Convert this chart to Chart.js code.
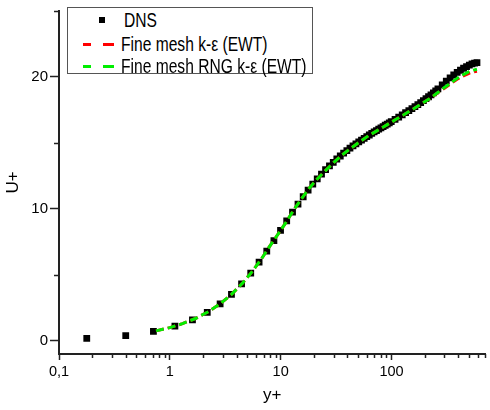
<!DOCTYPE html>
<html>
<head>
<meta charset="utf-8">
<script src="https://cdn.jsdelivr.net/npm/chart.js@4.4.0/dist/chart.umd.min.js"></script>
<style>
    body { margin: 0; background: #fff; }
    #wrap { position: relative; width: 490px; height: 410px; }
    #legend {
        position: absolute; left: 67px; top: 7px; width: 246px; height: 67px;
        box-sizing: border-box; border: 1.5px solid #555; background: #fff;
        font-family: "Liberation Sans", Arial, sans-serif;
        font-size: 19.5px; color: #000;
    }
    .row { position: absolute; left: 0; width: 240px; height: 22px; line-height: 22px; white-space: nowrap; }
    .row span.txt { position: absolute; top: 0; display: inline-block; transform: scaleX(0.8); transform-origin: 0 50%; }
    .mark { position: absolute; width: 6px; height: 6px; background: #000; top: 8px; }
    .dash { position: absolute; height: 3px; top: 10px; }
</style>
</head>
<body>
<div id="wrap">
    <canvas id="chart" width="490" height="410"></canvas>
    <div id="legend">
        <div class="row" style="top:1px">
            <div class="mark" style="left:31px"></div>
            <span class="txt" style="left:56px">DNS</span>
        </div>
        <div class="row" style="top:25px">
            <div class="dash" style="left:15px;width:8px;background:#ff0000"></div>
            <div class="dash" style="left:35px;width:11px;background:#ff0000"></div>
            <span class="txt" style="left:53px">Fine mesh k-ε (EWT)</span>
        </div>
        <div class="row" style="top:47px">
            <div class="dash" style="left:15px;width:8px;background:#00ee00"></div>
            <div class="dash" style="left:35px;width:11px;background:#00ee00"></div>
            <span class="txt" style="left:53px">Fine mesh RNG k-ε (EWT)</span>
        </div>
    </div>
</div>
<script>
// ===== Data =====
const dnsYPlus = [0.178, 0.400, 0.711, 1.111, 1.600, 2.176, 2.842, 3.597, 4.437, 5.368,
    6.385, 7.49, 8.687, 9.97, 11.33, 12.79, 14.33, 15.96, 17.68, 19.48,
    21.37, 23.35, 25.41, 27.55, 29.80, 32.09, 34.48, 36.97, 39.54, 42.18,
    44.91, 47.72, 50.62, 53.59, 56.65, 59.78, 63.00, 66.30, 69.67, 73.12,
    76.65, 80.26, 83.94, 87.70, 91.54, 95.45, 99.43, 107.6, 116.1, 124.9,
    133.9, 143.3, 152.8, 162.7, 172.8, 183.2, 193.8, 204.6, 215.7, 227.0,
    238.5, 250.3, 262.2, 286.7, 311.9, 337.7, 364.2, 391.2, 418.7, 446.6,
    474.9, 503.4, 532.2, 561.0, 590.0];
const dnsU = [0.18, 0.40, 0.71, 1.11, 1.59, 2.16, 2.80, 3.52, 4.31, 5.13,
    5.97, 6.80, 7.60, 8.37, 9.09, 9.76, 10.36, 10.92, 11.42, 11.88,
    12.28, 12.64, 12.97, 13.26, 13.53, 13.78, 14.01, 14.22, 14.42, 14.60,
    14.77, 14.93, 15.08, 15.22, 15.35, 15.48, 15.60, 15.72, 15.83, 15.94,
    16.04, 16.14, 16.24, 16.34, 16.43, 16.52, 16.61, 16.79, 16.96, 17.13,
    17.29, 17.45, 17.60, 17.75, 17.90, 18.05, 18.20, 18.35, 18.50, 18.65,
    18.80, 18.95, 19.10, 19.40, 19.68, 19.93, 20.15, 20.34, 20.51, 20.66,
    20.79, 20.90, 20.99, 21.05, 21.08];

const meshYPlus = [0.75, 1.0, 1.3, 1.7, 2.2, 2.8, 3.6, 4.5, 5.5, 6.7,
    8.0, 9.5, 11.2, 13.2, 15.5, 18, 21, 25, 30, 36,
    43, 52, 62, 75, 90, 108, 130, 155, 185, 220,
    260, 300, 350, 400, 450, 500, 550, 590];
const kEpsU = [0.75, 1.0, 1.3, 1.69, 2.18, 2.76, 3.52, 4.35, 5.22, 6.2,
    7.2, 8.1, 9.0, 9.95, 10.8, 11.55, 12.2, 12.85, 13.5, 14.1,
    14.6, 15.1, 15.55, 15.95, 16.35, 16.75, 17.15, 17.55, 17.95, 18.35,
    18.78, 19.15, 19.55, 19.88, 20.1, 20.28, 20.38, 20.43];
const rngU = [0.75, 1.0, 1.3, 1.69, 2.18, 2.76, 3.52, 4.35, 5.22, 6.2,
    7.2, 8.1, 9.0, 9.95, 10.8, 11.55, 12.2, 12.85, 13.5, 14.1,
    14.6, 15.1, 15.55, 15.95, 16.35, 16.75, 17.15, 17.55, 17.95, 18.35,
    18.8, 19.2, 19.6, 19.95, 20.2, 20.4, 20.52, 20.58];

// axes
const xMajorTicks = [0.1, 1, 10, 100];
const xMajorLabels = ['0,1', '1', '10', '100'];
const xMinorTicks = [0.2, 0.3, 0.4, 0.5, 0.6, 0.7, 0.8, 0.9, 2, 3, 4, 5, 6, 7, 8, 9,
    20, 30, 40, 50, 60, 70, 80, 90, 200, 300, 400, 500, 600, 700];
const yMajorTicks = [0, 10, 20];
const yMinorTicks = [5, 15, 25];

const FONT = '"Liberation Sans", Arial, sans-serif';
const AXIS = '#222';

function toPoints(xs, ys) {
    return xs.map((x, i) => ({ x: x, y: ys[i] }));
}

// short ticks for the minor values, drawn with the scales' own pixel mapping
const minorTicksPlugin = {
    id: 'minorTicks',
    afterDraw(chart) {
        const { ctx, scales: { x, y } } = chart;
        ctx.save();
        ctx.strokeStyle = AXIS;
        ctx.lineWidth = 1.5;
        xMinorTicks.forEach(v => {
            const px = Math.round(x.getPixelForValue(v)) + 0.5;
            ctx.beginPath();
            ctx.moveTo(px, x.top);
            ctx.lineTo(px, x.top + 4);
            ctx.stroke();
        });
        yMinorTicks.forEach(v => {
            const py = Math.round(y.getPixelForValue(v)) + 0.5;
            ctx.beginPath();
            ctx.moveTo(y.right, py);
            ctx.lineTo(y.right - 5, py);
            ctx.stroke();
        });
        ctx.restore();
    }
};

new Chart(document.getElementById('chart'), {
    type: 'scatter',
    data: {
        datasets: [
            {
                label: 'DNS',
                data: toPoints(dnsYPlus, dnsU),
                pointStyle: 'rect',
                pointRadius: 4.8,
                backgroundColor: '#000',
                borderColor: '#000',
                borderWidth: 0,
                showLine: false,
                order: 3
            },
            {
                label: 'Fine mesh k-ε (EWT)',
                data: toPoints(meshYPlus, kEpsU),
                showLine: true,
                borderColor: '#ff0000',
                borderWidth: 3,
                borderDash: [8, 4],
                pointRadius: 0,
                tension: 0,
                order: 2
            },
            {
                label: 'Fine mesh RNG k-ε (EWT)',
                data: toPoints(meshYPlus, rngU),
                showLine: true,
                borderColor: '#00ee00',
                borderWidth: 3,
                borderDash: [8, 4],
                pointRadius: 0,
                tension: 0,
                order: 1
            }
        ]
    },
    options: {
        responsive: false,
        animation: false,
        devicePixelRatio: 1,
        layout: { padding: { top: 5, right: 0, bottom: 0, left: 0 } },
        plugins: { legend: { display: false }, tooltip: { enabled: false } },
        scales: {
            x: {
                type: 'logarithmic',
                min: 0.1,
                max: 700,
                afterBuildTicks: scale => {
                    scale.ticks = xMajorTicks.map(v => ({ value: v, major: true }));
                },
                afterFit: scale => { scale.height = 56; },
                ticks: {
                    autoSkip: false,
                    maxRotation: 0,
                    padding: 3,
                    color: '#000',
                    font: { family: FONT, size: 14.5 },
                    callback: value => {
                        const i = xMajorTicks.indexOf(value);
                        return i >= 0 ? xMajorLabels[i] : '';
                    }
                },
                grid: { drawOnChartArea: false, tickLength: 6, tickWidth: 1.5, tickColor: AXIS },
                border: { color: AXIS, width: 2 },
                title: { display: true, text: 'y+', color: '#000', font: { family: FONT, size: 17 }, padding: { top: 0, bottom: 4 } }
            },
            y: {
                min: -1,
                max: 25,
                afterBuildTicks: scale => {
                    scale.ticks = yMajorTicks.map(v => ({ value: v }));
                },
                afterFit: scale => { scale.width = 59; },
                ticks: {
                    autoSkip: false,
                    padding: 2,
                    color: '#000',
                    font: { family: FONT, size: 15 }
                },
                grid: { drawOnChartArea: false, tickLength: 9, tickWidth: 1.5, tickColor: AXIS },
                border: { color: AXIS, width: 2 },
                title: { display: true, text: 'U+', color: '#000', font: { family: FONT, size: 17 }, padding: { top: 3, bottom: 0 } }
            }
        }
    },
    plugins: [minorTicksPlugin]
});
</script>
</body>
</html>
